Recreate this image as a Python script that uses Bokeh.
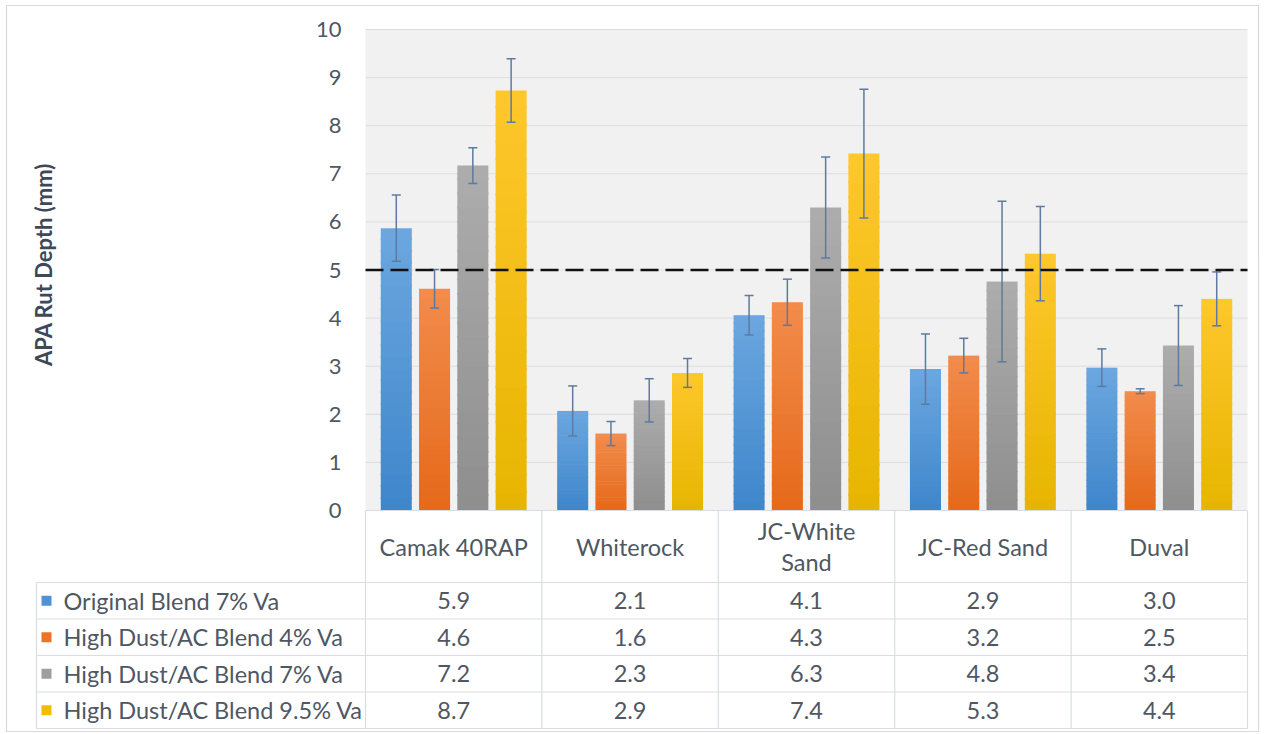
import numpy as np
from bokeh.plotting import figure
from bokeh.models import Range1d
from bokeh.embed import file_html
from bokeh.resources import INLINE
from bokeh.core.properties import value

# ---------------- data ----------------
categories = ["Camak 40RAP", "Whiterock", "JC-White Sand", "JC-Red Sand", "Duval"]
category_labels = ["Camak 40RAP", "Whiterock", "JC-White\nSand", "JC-Red Sand", "Duval"]
series_names = ["Original Blend 7% Va", "High Dust/AC Blend 4% Va",
                "High Dust/AC Blend 7% Va", "High Dust/AC Blend 9.5% Va"]
original_7 = [5.87, 2.07, 4.06, 2.94, 2.97]
high_dust_4 = [4.61, 1.60, 4.33, 3.22, 2.48]
high_dust_7 = [7.17, 2.29, 6.30, 4.76, 3.43]
high_dust_95 = [8.73, 2.86, 7.42, 5.34, 4.40]
err_original_7 = [0.69, 0.52, 0.41, 0.73, 0.39]
err_high_dust_4 = [0.40, 0.25, 0.48, 0.36, 0.05]
err_high_dust_7 = [0.37, 0.45, 1.05, 1.67, 0.83]
err_high_dust_95 = [0.66, 0.30, 1.34, 0.98, 0.56]
y_ticks = [0, 1, 2, 3, 4, 5, 6, 7, 8, 9, 10]
threshold = 5.0
y_title = "APA Rut Depth (mm)"

series_values = [original_7, high_dust_4, high_dust_7, high_dust_95]
series_errors = [err_original_7, err_high_dust_4, err_high_dust_7, err_high_dust_95]

# ---------------- styles ----------------
top_colors = [(0x6c, 0xa7, 0xe0), (0xf2, 0x8c, 0x4c), (0xad, 0xad, 0xad), (0xff, 0xc7, 0x2c)]
bottom_colors = [(0x3e, 0x86, 0xcb), (0xe5, 0x69, 0x1a), (0x8e, 0x8e, 0x8e), (0xe6, 0xb5, 0x00)]
legend_colors = ["#4f93d6", "#ec7427", "#9e9e9e", "#f5bb00"]
FONT = value("Lato")
TXT = "#4f5763"
TABLE_LINE = "#d9dde2"
ERR = "#5e7aa0"

W, H = 1264, 733
PXX, PXY = 176.4, 48.1          # pixels per category / per mm
X0_IMG, Y0_IMG = 365.0, 510.0    # page position of (0, 0)


def ix(px):
    return (px - X0_IMG) / PXX


def iy(py):
    return (Y0_IMG - py) / PXY


p = figure(width=W, height=H, output_backend="svg", toolbar_location=None,
           x_range=Range1d(ix(0), ix(W)), y_range=Range1d(iy(H), iy(0)),
           min_border=0, x_axis_type=None, y_axis_type=None, tools="")
p.grid.visible = False
p.outline_line_color = None
p.background_fill_color = "white"
p.border_fill_color = "white"

ncat = len(categories)
ymax = y_ticks[-1]

# outer chart border
p.quad(left=[ix(6)], right=[ix(1258)], bottom=[iy(731)], top=[iy(5)],
       fill_color=None, line_color="#d9d9d9", line_width=1.2)

# plot area background + gridlines
p.quad(left=[0], right=[ncat], bottom=[0], top=[ymax], fill_color="#f1f1f1", line_color=None)
grid_y = [t for t in y_ticks if t > 0]
p.segment(x0=[0] * len(grid_y), x1=[ncat] * len(grid_y), y0=grid_y, y1=grid_y,
          line_color="#dddddd", line_width=1)

# bars with vertical gradient
bar_w = 0.176
step = 0.217
cap = 9 / PXX
N = 24
L, R, B, T, C = [], [], [], [], []
bx, btop, blow = [], [], []
for j, (vals, errs) in enumerate(zip(series_values, series_errors)):
    for i, v in enumerate(vals):
        cx = i + 0.5 + (j - 1.5) * step
        for k in range(N):
            f = (k + 0.5) / N  # 0 bottom -> 1 top
            col = tuple(int(round(bottom_colors[j][c] + (top_colors[j][c] - bottom_colors[j][c]) * f))
                        for c in range(3))
            L.append(cx - bar_w / 2)
            R.append(cx + bar_w / 2)
            B.append(v * k / N)
            T.append(min(v, v * (k + 1.15) / N))
            C.append("#%02x%02x%02x" % col)
        bx.append(cx)
        btop.append(v + errs[i])
        blow.append(v - errs[i])
p.quad(left=L, right=R, bottom=B, top=T, fill_color=C, line_color=None)

# error bars
bx = np.array(bx)
p.segment(x0=bx, x1=bx, y0=blow, y1=btop, line_color=ERR, line_width=1.5)
p.segment(x0=bx - cap / 2, x1=bx + cap / 2, y0=btop, y1=btop, line_color=ERR, line_width=1.5)
p.segment(x0=bx - cap / 2, x1=bx + cap / 2, y0=blow, y1=blow, line_color=ERR, line_width=1.5)

# threshold dashed line
p.line(x=[0, ncat], y=[threshold, threshold], line_color="#111111", line_width=2.7, line_dash="18 7")

# y tick labels
p.text(x=[0] * len(y_ticks), y=y_ticks, text=[str(t) for t in y_ticks], x_offset=-24,
       text_align="right", text_baseline="middle", text_font=FONT,
       text_font_size=value("22px"), text_color=TXT)

# y title
p.text(x=[ix(43)], y=[iy(264)], text=[y_title], angle=np.pi / 2, text_align="center",
       text_baseline="middle", text_font=FONT, text_font_size=value("22px"),
       text_font_style="bold", text_color="#3e4958")

# ---------------- data table ----------------
header_bottom = iy(582)
row_h = 36.5 / PXY
row_edges = [header_bottom - r * row_h for r in range(len(series_names) + 1)]
table_bottom = row_edges[-1]
legend_left = ix(36)

# horizontal lines
hx0 = [0] + [legend_left] * len(row_edges)
hx1 = [ncat] * (len(row_edges) + 1)
hy = [0] + row_edges
p.segment(x0=hx0, x1=hx1, y0=hy, y1=hy, line_color=TABLE_LINE, line_width=1.2)
# vertical lines
vx = list(range(ncat + 1)) + [legend_left]
vy0 = [0] * (ncat + 1) + [header_bottom]
p.segment(x0=vx, x1=vx, y0=vy0, y1=[table_bottom] * len(vx), line_color=TABLE_LINE, line_width=1.2)

# header labels
p.text(x=[i + 0.5 for i in range(ncat)], y=[header_bottom / 2] * ncat, text=category_labels,
       text_align="center", text_baseline="middle", text_font=FONT,
       text_font_size=value("23.5px"), text_color=TXT, text_line_height=1.1)

# rows
for r, (name, vals) in enumerate(zip(series_names, series_values)):
    yc = (row_edges[r] + row_edges[r + 1]) / 2
    p.text(x=[i + 0.5 for i in range(ncat)], y=[yc] * ncat, text=["%.1f" % v for v in vals],
           text_align="center", text_baseline="middle", text_font=FONT,
           text_font_size=value("23.5px"), text_color=TXT)
    p.rect(x=[ix(46)], y=[yc], width=10, height=10, width_units="screen", height_units="screen",
           fill_color=legend_colors[r], line_color=None)
    p.text(x=[ix(63)], y=[yc], text=[name], text_align="left", text_baseline="middle",
           text_font=FONT, text_font_size=value("23.5px"), text_color=TXT)

open("out.html", "w").write(file_html(p, INLINE))
